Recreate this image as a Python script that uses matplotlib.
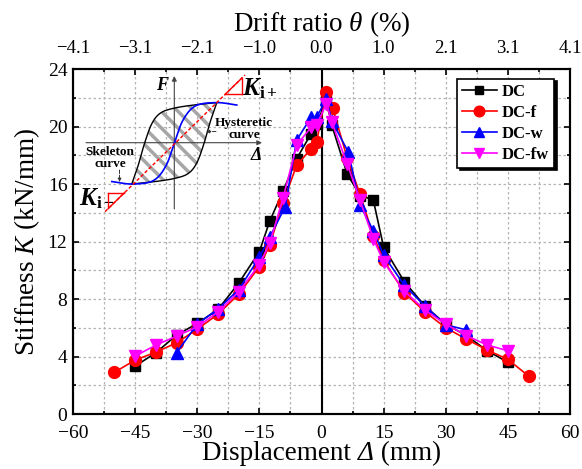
import numpy as np
import matplotlib
matplotlib.use('Agg')
import matplotlib.pyplot as plt
from matplotlib.patches import Polygon
from matplotlib.ticker import MultipleLocator, FixedLocator

plt.rcParams['font.family'] = ['Liberation Serif', 'DejaVu Serif']
plt.rcParams['mathtext.fontset'] = 'custom'
plt.rcParams['mathtext.rm'] = 'Liberation Serif'
plt.rcParams['mathtext.it'] = 'Liberation Serif:italic'
plt.rcParams['mathtext.bf'] = 'Liberation Serif:bold'
plt.rcParams['mathtext.bfit'] = 'Liberation Serif:bold:italic'
plt.rcParams['hatch.linewidth'] = 2.5
plt.rcParams['axes.unicode_minus'] = True

# ---------------- data ----------------
dc_x = [-45, -40, -35, -30, -25, -20, -15, -12.5, -9.3, -6, -2.5, -1.2,
        1.2, 2.5, 6.2, 9.3, 12.5, 15, 20, 25, 30, 35, 40, 45]
dc_y = [3.33, 4.26, 5.49, 6.30, 7.27, 9.10, 11.3, 13.42, 15.5, 17.76, 19.5, 20.2,
        21.8, 20.07, 16.7, 15.2, 14.9, 11.6, 9.2, 7.5, 6.25, 5.45, 4.4, 3.6]

dcf_x = [-50, -45, -40, -35, -30, -25, -20, -15, -12.5, -9.3, -6, -2.5, -1.2,
         1.2, 2.7, 6.2, 9.3, 12.5, 15, 20, 25, 30, 35, 40, 45, 50]
dcf_y = [2.9, 3.75, 4.3, 4.95, 5.9, 6.94, 8.33, 10.25, 11.75, 14.7, 17.3, 18.45, 18.9,
         22.4, 21.3, 17.8, 15.3, 12.4, 10.7, 8.45, 7.1, 6.0, 5.2, 4.45, 3.8, 2.64]

dcw_x = [-35, -30, -25, -20, -15, -12.5, -8.8, -6, -2.5, -1.2,
         1.2, 2.5, 6.5, 9.3, 12.5, 15, 20, 25, 30, 35]
dcw_y = [4.26, 6.25, 7.3, 8.65, 10.9, 12.3, 14.4, 19.05, 20.65, 20.65,
         21.9, 20.4, 18.2, 14.55, 12.75, 11.05, 8.95, 7.5, 6.2, 5.85]

dcfw_x = [-45, -40, -35, -30, -25, -20, -15, -12.5, -9.3, -6, -2.5, -1.2,
          1.2, 2.5, 6.2, 9.3, 12.5, 15, 20, 25, 30, 35, 40, 45]
dcfw_y = [4.03, 4.79, 5.42, 6.06, 7.1, 8.5, 10.4, 11.9, 15.0, 18.7, 19.95, 20.1,
          21.6, 20.3, 17.4, 14.86, 12.2, 10.58, 8.55, 7.22, 6.25, 5.45, 4.8, 4.4]

series_names = ['DC', 'DC-f', 'DC-w', 'DC-fw']

bottom_ticks = [-60, -45, -30, -15, 0, 15, 30, 45, 60]
top_tick_labels = ['\u22124.1', '\u22123.1', '\u22122.1', '\u22121.0', '0.0',
                   '1.0', '2.1', '3.1', '4.1']
y_ticks = [0, 4, 8, 12, 16, 20, 24]

# ---------------- figure ----------------
W, H = 582, 469
fig = plt.figure(figsize=(W / 100, H / 100), dpi=100)
L, R, T, B = 73, 570, 69, 414
ax = fig.add_axes([L / W, 1 - B / H, (R - L) / W, (B - T) / H])

ax.set_xlim(-60, 60)
ax.set_ylim(0, 24)
ax.xaxis.set_major_locator(FixedLocator(bottom_ticks))
ax.xaxis.set_minor_locator(MultipleLocator(7.5))
ax.yaxis.set_major_locator(FixedLocator(y_ticks))
ax.yaxis.set_minor_locator(MultipleLocator(2))
ax.grid(True, which='both', color='#b4b4b4', linestyle=(0, (2, 2)), linewidth=0.9)
ax.set_axisbelow(True)
ax.tick_params(which='both', direction='in', top=False, right=True, labelsize=14,
               width=1.2)
ax.tick_params(axis='x', which='major', pad=8)
ax.tick_params(axis='y', which='major', pad=4)
ax.tick_params(which='major', length=4)
ax.tick_params(which='minor', length=2.5)
for s in ax.spines.values():
    s.set_linewidth(1.5)

ax.axvline(0, color='black', linewidth=1.5, zorder=2)

styles = [
    (dc_x, dc_y, 'black', 's', 7),
    (dcf_x, dcf_y, 'red', 'o', 8.5),
    (dcw_x, dcw_y, 'blue', '^', 8.5),
    (dcfw_x, dcfw_y, 'magenta', 'v', 8.5),
]
for (xs, ys, c, m, ms), name in zip(styles, series_names):
    ax.plot(xs, ys, color=c, marker=m, markersize=ms, linewidth=1.2,
            label=name, zorder=3)

leg = ax.legend(loc='upper right', bbox_to_anchor=(0.968, 0.972), borderaxespad=0,
                frameon=True, fancybox=False, edgecolor='black',
                shadow={'color': 'black', 'alpha': 1},
                prop={'family': 'Liberation Serif', 'weight': 'bold', 'size': 12},
                handlelength=2.1, labelspacing=0.3, borderpad=0.3,
                handletextpad=0.3, framealpha=1, markerscale=0.9)
leg.get_frame().set_linewidth(1.2)

ax.set_ylabel('Stiffness $\\mathit{K}$ (kN/mm)', fontsize=19.5, labelpad=4)

axt = ax.twiny()
axt.set_xlim(ax.get_xlim())
axt.xaxis.set_major_locator(FixedLocator(bottom_ticks))
axt.set_xticklabels(top_tick_labels)
axt.xaxis.set_minor_locator(MultipleLocator(7.5))
axt.tick_params(which='both', direction='in', labelsize=13.5, width=1.2)
axt.tick_params(which='major', length=4, pad=9)
axt.tick_params(which='minor', length=2.5)
axt.set_xlabel('Drift ratio $\\mathit{\u03b8}$ (%)', fontsize=19.5, labelpad=6)
for s in axt.spines.values():
    s.set_linewidth(1.5)

# x label built from pieces so that the Greek Delta can be italic
xl_parts = [('Displacement ', 'normal'), ('\u0394', 'italic'), (' (mm)', 'normal')]
xl_y = 1 - 460 / H
xl_texts = [fig.text(0, xl_y, s, fontsize=19.5, style=st, ha='left', va='baseline')
            for s, st in xl_parts]
fig.canvas.draw()
rend = fig.canvas.get_renderer()
widths = [t.get_window_extent(rend).width for t in xl_texts]
total = sum(widths)
x_center = (L + R) / 2
xpos = x_center - total / 2
for t, w in zip(xl_texts, widths):
    t.set_x(xpos / W)
    xpos += w

# ---------------- schematic inset (illustration, pixel coords) ----------------
ov = fig.add_axes([0, 0, 1, 1], zorder=5)
ov.set_xlim(0, W)
ov.set_ylim(H, 0)
ov.axis('off')
ov.patch.set_alpha(0)


def catmull(points, n=24):
    P = np.asarray(points, float)
    P = np.vstack([2 * P[0] - P[1], P, 2 * P[-1] - P[-2]])
    out = []
    t = np.linspace(0, 1, n, endpoint=False)[:, None]
    for i in range(1, len(P) - 2):
        p0, p1, p2, p3 = P[i - 1], P[i], P[i + 1], P[i + 2]
        seg = 0.5 * ((2 * p1) + (-p0 + p2) * t + (2 * p0 - 5 * p1 + 4 * p2 - p3) * t ** 2
                     + (-p0 + 3 * p1 - 3 * p2 + p3) * t ** 3)
        out.append(seg)
    out.append(P[-2][None, :])
    return np.vstack(out)


cx, cy, sx, sy = 174.3, 143.3, 42.5, 40.7


def to_px(arr):
    arr = np.asarray(arr, float)
    return np.column_stack([cx + arr[:, 0] * sx, cy - arr[:, 1] * sy])


upper = [(-1, -1), (-0.86, -0.58), (-0.70, 0.0), (-0.53, 0.48), (-0.33, 0.74),
         (-0.02, 0.86), (0.45, 0.94), (1, 1)]
lower = [(-p[0], -p[1]) for p in upper]
up_c = to_px(catmull(upper))
lo_c = to_px(catmull(lower))
loop = np.vstack([up_c, lo_c])
ov.add_patch(Polygon(loop, closed=True, facecolor='none', edgecolor='#a6a6a6',
                     linewidth=0, hatch='\\\\', zorder=1))
ov.plot(loop[:, 0], loop[:, 1], color='black', linewidth=1.0, zorder=3)

skel = [(-1.47, -0.94), (-1, -1), (-0.5, -0.92), (-0.2, -0.56), (0, 0),
        (0.2, 0.56), (0.5, 0.92), (1, 1), (1.47, 0.94)]
sk = to_px(catmull(skel))
ov.plot(sk[:, 0], sk[:, 1], color='blue', linewidth=1.2, zorder=4)

# axes of schematic
ov.annotate('', xy=(174.3, 76), xytext=(174.3, 209),
            arrowprops=dict(arrowstyle='-|>', color='#444444', lw=0.8,
                            mutation_scale=7, shrinkA=0, shrinkB=0), zorder=2)
ov.annotate('', xy=(262, 142.7), xytext=(86, 142.7),
            arrowprops=dict(arrowstyle='-|>', color='#444444', lw=0.8,
                            mutation_scale=7, shrinkA=0, shrinkB=0), zorder=2)
ov.text(162, 86, 'F', fontsize=13, fontweight='bold', style='italic',
        ha='center', va='center')
ov.text(256, 155, '\u0394', fontsize=13, fontweight='bold', style='italic',
        ha='center', va='center')

# red secant line and triangles
x1, y1, x2, y2 = 105, 211.7, 245, 75
ov.plot([x1, x2], [y1, y2], color='red', linewidth=1.0, linestyle=(0, (2.5, 1.5)), zorder=5)
slope = (y2 - y1) / (x2 - x1)


def yline(x):
    return y1 + slope * (x - x1)


def xline(y):
    return x1 + (y - y1) / slope


ax_, ay_ = 108.3, 192.7
ov.plot([ax_, xline(ay_)], [ay_, ay_], color='red', lw=1.0, zorder=5)
ov.plot([ax_, ax_], [ay_, yline(ax_)], color='red', lw=1.0, zorder=5)
ov.plot([ax_, xline(ay_)], [yline(ax_), ay_], color='red', lw=1.0, zorder=5)
bx_, by_ = 241.7, 94.3
ov.plot([xline(by_), bx_], [by_, by_], color='red', lw=1.0, zorder=5)
ov.plot([bx_, bx_], [by_, yline(bx_)], color='red', lw=1.0, zorder=5)
ov.plot([xline(by_), bx_], [by_, yline(bx_)], color='red', lw=1.0, zorder=5)

ov.text(242, 89, '$\\mathbfit{K}_{\\mathbf{i+}}$', fontsize=18, ha='left', va='center')
ov.text(79, 199, '$\\mathbfit{K}_{\\mathbf{i-}}$', fontsize=18, ha='left', va='center')

ov.text(244, 129, 'Hysteretic\ncurve', fontsize=9.5, fontweight='bold',
        ha='center', va='center', linespacing=0.95)
ov.annotate('', xy=(206, 131.5), xytext=(216, 131.5),
            arrowprops=dict(arrowstyle='-|>', color='#333333', lw=0.7, ls='--',
                            mutation_scale=5, shrinkA=0, shrinkB=0))
ov.text(110, 158, 'Skeleton\ncurve', fontsize=9.5, fontweight='bold',
        ha='center', va='center', linespacing=0.95)
ov.annotate('', xy=(119.5, 182), xytext=(119.5, 170),
            arrowprops=dict(arrowstyle='-|>', color='#333333', lw=0.7, ls='--',
                            mutation_scale=5, shrinkA=0, shrinkB=0))

fig.savefig('out.png', dpi=100)
